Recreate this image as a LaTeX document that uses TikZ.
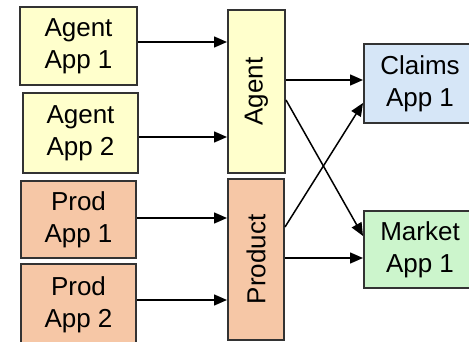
\documentclass[tikz,border=0pt]{standalone}
\usepackage{fontspec}
\setmainfont{Liberation Sans}
\usetikzlibrary{arrows.meta}
\definecolor{agentfill}{HTML}{FFFFCC}
\definecolor{prodfill}{HTML}{F6C7A6}
\definecolor{claimfill}{HTML}{D6E6F7}
\definecolor{marketfill}{HTML}{CCF5CC}
\definecolor{edge}{HTML}{333333}
\tikzset{
  box/.style={draw=edge, line width=2pt, inner sep=0pt, align=center,
    font=\fontsize{26}{32}\selectfont},
  arr/.style={line width=1.5pt, -{Triangle[length=13pt,width=11pt]}},
}
\begin{document}
\begin{tikzpicture}[x=1pt,y=-1pt]
\useasboundingbox (0,0) rectangle (469,342);
\clip (0,0) rectangle (469,342);
\fill[white] (0,0) rectangle (469,342);
\node[box, fill=agentfill, minimum width=117pt, minimum height=78pt] (a1) at (78.5,46) {Agent\\App 1};
\node[box, fill=agentfill, minimum width=115pt, minimum height=80pt] (a2) at (80.5,133) {Agent\\App 2};
\node[box, fill=prodfill, minimum width=115pt, minimum height=77pt] (p1) at (78.5,219.5) {Prod\\App 1};
\node[box, fill=prodfill, minimum width=115pt, minimum height=81pt] (p2) at (78.5,304.5) {Prod\\App 2};
\node[box, fill=agentfill, minimum width=57pt, minimum height=163pt] (ag) at (256.5,91.5) {};
\node[rotate=90, font=\fontsize{26}{32}\selectfont] at (ag.center) {Agent};
\node[box, fill=prodfill, minimum width=56pt, minimum height=161pt] (pr) at (256,259.5) {};
\node[rotate=90, font=\fontsize{26}{32}\selectfont] at (pr.center) {Product};
\node[box, fill=claimfill, minimum width=112pt, minimum height=79pt] (cl) at (420,83.5) {Claims\\App 1};
\node[box, fill=marketfill, minimum width=112pt, minimum height=77pt] (mk) at (420,249.5) {Market\\App 1};
\draw[arr] (a1.east |- 0,42) -- (ag.west |- 0,42);
\draw[arr] (a2.east |- 0,137) -- (ag.west |- 0,137);
\draw[arr] (p1.east |- 0,218) -- (pr.west |- 0,218);
\draw[arr] (p2.east |- 0,300) -- (pr.west |- 0,300);
\draw[arr] (ag.east |- 0,80) -- (cl.west |- 0,80);
\draw[arr] (ag.east |- 0,100) -- (mk.west |- 0,236);
\draw[arr] (pr.east |- 0,227) -- (cl.west |- 0,103);
\draw[arr] (pr.east |- 0,258) -- (mk.west |- 0,258);
\end{tikzpicture}
\end{document}
